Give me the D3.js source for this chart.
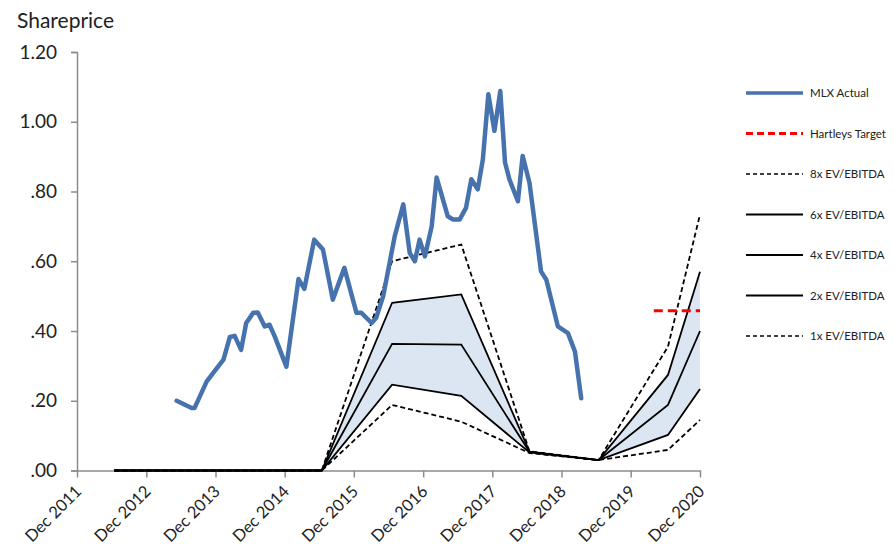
<!DOCTYPE html>
<html><head><meta charset="utf-8">
<script src="https://cdn.jsdelivr.net/npm/d3@7"></script>
<style>
body{margin:0;background:#fff;}
text{font-family:Lato,"Open Sans",sans-serif;fill:#222;}
</style></head>
<body><svg id="c" width="894" height="556"></svg>
<script>
// ---- data ----
const actualDates = ["2013-05-10","2013-07-28","2013-08-12","2013-10-15","2013-11-18","2014-01-12","2014-02-15","2014-03-12","2014-04-15","2014-05-12","2014-06-18","2014-07-12","2014-08-18","2014-09-12","2014-10-10","2014-12-10","2015-02-12","2015-03-15","2015-05-06","2015-06-21","2015-08-12","2015-10-12","2015-12-15","2016-01-10","2016-03-04","2016-03-28","2016-05-04","2016-07-04","2016-08-18","2016-09-21","2016-10-18","2016-11-12","2016-12-10","2017-01-15","2017-02-10","2017-04-10","2017-05-06","2017-06-12","2017-07-15","2017-08-12","2017-09-15","2017-10-12","2017-11-10","2017-12-12","2018-01-12","2018-02-06","2018-03-01","2018-04-15","2018-05-10","2018-06-15","2018-08-15","2018-09-12","2018-11-12","2019-01-04","2019-02-10","2019-03-15"];
const actualValues = [0.200,0.179,0.179,0.255,0.279,0.318,0.383,0.386,0.346,0.423,0.452,0.453,0.413,0.418,0.384,0.298,0.549,0.521,0.662,0.634,0.490,0.581,0.452,0.452,0.423,0.438,0.500,0.672,0.763,0.624,0.600,0.662,0.614,0.700,0.840,0.729,0.720,0.720,0.753,0.835,0.806,0.892,1.079,0.974,1.088,0.883,0.835,0.772,0.902,0.825,0.571,0.547,0.413,0.394,0.341,0.207];

const valDates = ["2012-06-15","2013-06-15","2014-06-15","2015-06-15","2016-06-20","2017-06-20","2018-06-15","2019-06-15","2020-06-15","2020-12-01"];
const ev8x = [0,0,0,0,0.600,0.648,0.055,0.030,0.355,0.734];
const ev6x = [0,0,0,0,0.481,0.505,0.054,0.030,0.274,0.570];
const ev4x = [0,0,0,0,0.363,0.361,0.053,0.030,0.188,0.400];
const ev2x = [0,0,0,0,0.246,0.214,0.052,0.030,0.102,0.234];
const ev1x = [0,0,0,0,0.188,0.140,0.050,0.030,0.059,0.145];

const targetDates = ["2020-04-01","2020-12-01"];
const targetValues = [0.458,0.458];

const yTicks = [0,0.2,0.4,0.6,0.8,1.0,1.2];
const xTickYears = [2011,2012,2013,2014,2015,2016,2017,2018,2019,2020];
const legendLabels = ["MLX Actual","Hartleys Target","8x EV/EBITDA","6x EV/EBITDA","4x EV/EBITDA","2x EV/EBITDA","1x EV/EBITDA"];

// ---- chart ----
const svg = d3.select("#c");
const parse = d3.timeParse("%Y-%m-%d");
const x = d3.scaleTime().domain([new Date(2011,11,1), new Date(2020,11,1)]).range([77,700]);
const y = d3.scaleLinear().domain([0,1.2]).range([470.5,52]);

const fmtY = v => v>=1 ? d3.format(".2f")(v) : d3.format(".2f")(v).replace(/^0/,"");

// shaded band 2x..6x
const band = valDates.map((d,i)=>({d:parse(d),lo:ev2x[i],hi:ev6x[i]})).filter((p,i)=>i>=3);
svg.append("path").datum(band)
  .attr("d", d3.area().x(p=>x(p.d)).y0(p=>y(p.lo)).y1(p=>y(p.hi)))
  .attr("fill","#dce6f2");

// axes
const yAxis = svg.append("g").attr("transform","translate(77,0)")
  .call(d3.axisLeft(y).tickValues(yTicks).tickFormat(fmtY).tickSize(6).tickPadding(14));
yAxis.select(".domain").attr("stroke","#8c8c8c").attr("stroke-width",1.5);
yAxis.selectAll(".tick line").attr("stroke","#8c8c8c").attr("stroke-width",1.5);
yAxis.selectAll("text").style("font-size","19px").attr("fill","#222");

const xAxis = svg.append("g").attr("transform","translate(0,470.5)")
  .call(d3.axisBottom(x).tickValues(xTickYears.map(yr=>new Date(yr,11,1))).tickFormat(d3.timeFormat("Dec %Y")).tickSize(7).tickSizeOuter(0));
xAxis.select(".domain").attr("stroke","#8c8c8c").attr("stroke-width",1.5);
xAxis.selectAll(".tick line").attr("stroke","#8c8c8c").attr("stroke-width",1.5);
xAxis.selectAll("text").style("font-size","16.5px").attr("fill","#222")
  .attr("text-anchor","end").attr("dy","0").attr("y",0)
  .attr("transform","translate(5,22) rotate(-45)");

// valuation lines
const mk = vals => valDates.map((d,i)=>({d:parse(d),v:vals[i]}));
const line = d3.line().x(p=>x(p.d)).y(p=>y(p.v));
const series = [
  {vals:ev1x,dash:"5,3"},
  {vals:ev2x,dash:null},
  {vals:ev4x,dash:null},
  {vals:ev6x,dash:null},
  {vals:ev8x,dash:"5,3"}
];
series.forEach(s=>{
  svg.append("path").datum(mk(s.vals)).attr("d",line)
    .attr("fill","none").attr("stroke","#000").attr("stroke-width",1.8)
    .attr("stroke-dasharray",s.dash);
});

// target
svg.append("path").datum(targetDates.map((d,i)=>({d:parse(d),v:targetValues[i]})))
  .attr("d",line).attr("fill","none").attr("stroke","#ff0000").attr("stroke-width",3).attr("stroke-dasharray","9,5");

// actual
svg.append("path").datum(actualDates.map((d,i)=>({d:parse(d),v:actualValues[i]})))
  .attr("d",line).attr("fill","none").attr("stroke","#4673ad").attr("stroke-width",4.5)
  .attr("stroke-linejoin","round").attr("stroke-linecap","round");

// title
svg.append("text").attr("x",17).attr("y",28).style("font-size","21px").text("Shareprice");

// legend
const legStyles = [
  {c:"#4673ad",w:3.5,dash:null},
  {c:"#ff0000",w:3,dash:"7,4"},
  {c:"#000",w:1.6,dash:"4,3"},
  {c:"#000",w:2,dash:null},
  {c:"#000",w:2,dash:null},
  {c:"#000",w:2,dash:null},
  {c:"#000",w:1.6,dash:"4,3"}
];
const leg = svg.append("g");
legendLabels.forEach((lab,i)=>{
  const yy = 93 + i*40.5;
  leg.append("line").attr("x1",746).attr("x2",803).attr("y1",yy).attr("y2",yy)
    .attr("stroke",legStyles[i].c).attr("stroke-width",legStyles[i].w).attr("stroke-dasharray",legStyles[i].dash);
  leg.append("text").attr("x",810).attr("y",yy+4).style("font-size","11.5px").text(lab);
});
</script></body></html>
